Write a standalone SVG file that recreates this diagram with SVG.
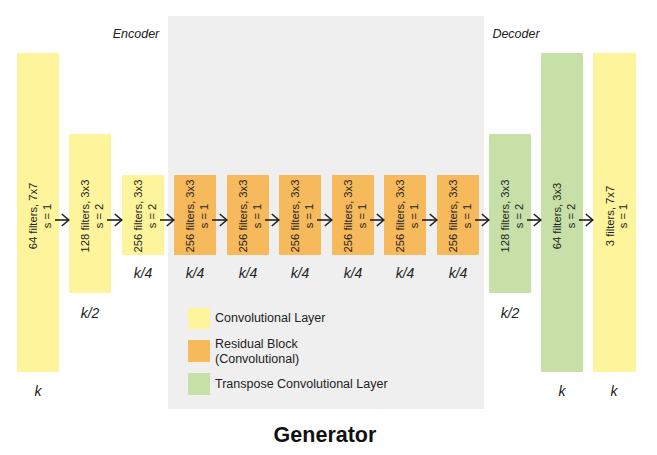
<svg xmlns="http://www.w3.org/2000/svg" width="657" height="455" viewBox="0 0 657 455">
<style>
.bg{fill:#efefef}
.conv{fill:#fef49c}
.res{fill:#f6b95b}
.tconv{fill:#c6e0a7}
.lbl{font-family:"Liberation Sans",Arial,sans-serif;font-size:11.2px;fill:#222;text-anchor:middle}
.dim{font-family:"Liberation Sans",Arial,sans-serif;font-size:14px;font-style:italic;fill:#222;text-anchor:middle}
.sec{font-family:"Liberation Sans",Arial,sans-serif;font-size:12.5px;font-style:italic;fill:#222;text-anchor:middle}
.leg{font-family:"Liberation Sans",Arial,sans-serif;font-size:12.5px;fill:#222}
.title{font-family:"Liberation Sans",Arial,sans-serif;font-size:21.5px;font-weight:bold;fill:#111;text-anchor:middle}
.arr{stroke:#222;stroke-width:1.6;fill:none;marker-end:url(#ah)}
</style>
<defs>
<marker id="ah" markerUnits="userSpaceOnUse" viewBox="0 0 9 14" refX="8.2" refY="7" markerWidth="9" markerHeight="14" orient="auto">
<path d="M1,1 L8,7 L1,13" fill="none" stroke="#222" stroke-width="1.6"/>
</marker>
</defs>
<rect class="bg" x="168" y="16" width="316" height="393"/>
<text class="sec" x="136" y="38">Encoder</text>
<text class="sec" x="516" y="38">Decoder</text>

<g id="conv1">
<rect class="conv" x="17" y="53" width="42" height="319" rx="1"/>
<text class="lbl" transform="translate(38,216) rotate(-90)"><tspan x="0" y="-1">64 filters, 7x7</tspan><tspan x="0" y="12.5">s = 1</tspan></text>
<text class="dim" x="38" y="396">k</text>
</g>
<g id="conv2">
<rect class="conv" x="69" y="134" width="42" height="159" rx="1"/>
<text class="lbl" transform="translate(90,216) rotate(-90)"><tspan x="0" y="-1">128 filters, 3x3</tspan><tspan x="0" y="12.5">s = 2</tspan></text>
<text class="dim" x="90" y="318">k/2</text>
</g>
<g id="conv3">
<rect class="conv" x="122" y="175" width="42" height="80" rx="1"/>
<text class="lbl" transform="translate(143,216) rotate(-90)"><tspan x="0" y="-1">256 filters, 3x3</tspan><tspan x="0" y="12.5">s = 2</tspan></text>
<text class="dim" x="143" y="278">k/4</text>
</g>
<g id="res1">
<rect class="res" x="174" y="175" width="42" height="80" rx="1"/>
<text class="lbl" transform="translate(195,216) rotate(-90)"><tspan x="0" y="-1">256 filters, 3x3</tspan><tspan x="0" y="12.5">s = 1</tspan></text>
<text class="dim" x="195" y="278">k/4</text>
</g>
<g id="res2">
<rect class="res" x="227" y="175" width="42" height="80" rx="1"/>
<text class="lbl" transform="translate(248,216) rotate(-90)"><tspan x="0" y="-1">256 filters, 3x3</tspan><tspan x="0" y="12.5">s = 1</tspan></text>
<text class="dim" x="248" y="278">k/4</text>
</g>
<g id="res3">
<rect class="res" x="279" y="175" width="42" height="80" rx="1"/>
<text class="lbl" transform="translate(300,216) rotate(-90)"><tspan x="0" y="-1">256 filters, 3x3</tspan><tspan x="0" y="12.5">s = 1</tspan></text>
<text class="dim" x="300" y="278">k/4</text>
</g>
<g id="res4">
<rect class="res" x="332" y="175" width="42" height="80" rx="1"/>
<text class="lbl" transform="translate(353,216) rotate(-90)"><tspan x="0" y="-1">256 filters, 3x3</tspan><tspan x="0" y="12.5">s = 1</tspan></text>
<text class="dim" x="353" y="278">k/4</text>
</g>
<g id="res5">
<rect class="res" x="384" y="175" width="42" height="80" rx="1"/>
<text class="lbl" transform="translate(405,216) rotate(-90)"><tspan x="0" y="-1">256 filters, 3x3</tspan><tspan x="0" y="12.5">s = 1</tspan></text>
<text class="dim" x="405" y="278">k/4</text>
</g>
<g id="res6">
<rect class="res" x="437" y="175" width="42" height="80" rx="1"/>
<text class="lbl" transform="translate(458,216) rotate(-90)"><tspan x="0" y="-1">256 filters, 3x3</tspan><tspan x="0" y="12.5">s = 1</tspan></text>
<text class="dim" x="458" y="278">k/4</text>
</g>
<g id="tconv1">
<rect class="tconv" x="489" y="134" width="42" height="159" rx="1"/>
<text class="lbl" transform="translate(510,216) rotate(-90)"><tspan x="0" y="-1">128 filters, 3x3</tspan><tspan x="0" y="12.5">s = 2</tspan></text>
<text class="dim" x="510" y="318">k/2</text>
</g>
<g id="tconv2">
<rect class="tconv" x="541" y="53" width="42" height="319" rx="1"/>
<text class="lbl" transform="translate(562,216) rotate(-90)"><tspan x="0" y="-1">64 filters, 3x3</tspan><tspan x="0" y="12.5">s = 2</tspan></text>
<text class="dim" x="562" y="396">k</text>
</g>
<g id="conv4">
<rect class="conv" x="593" y="53" width="43" height="319" rx="1"/>
<text class="lbl" transform="translate(614.5,216) rotate(-90)"><tspan x="0" y="-1">3 filters, 7x7</tspan><tspan x="0" y="12.5">s = 1</tspan></text>
<text class="dim" x="614" y="396">k</text>
</g>

<g id="connectors">
<line class="arr" x1="55" y1="220" x2="69" y2="220"/>
<line class="arr" x1="107" y1="220" x2="122" y2="220"/>
<line class="arr" x1="160" y1="220" x2="174" y2="220"/>
<line class="arr" x1="212" y1="220" x2="227" y2="220"/>
<line class="arr" x1="265" y1="220" x2="279" y2="220"/>
<line class="arr" x1="317" y1="220" x2="332" y2="220"/>
<line class="arr" x1="370" y1="220" x2="384" y2="220"/>
<line class="arr" x1="422" y1="220" x2="437" y2="220"/>
<line class="arr" x1="475" y1="220" x2="489" y2="220"/>
<line class="arr" x1="527" y1="220" x2="541" y2="220"/>
<line class="arr" x1="579" y1="220" x2="593" y2="220"/>
</g>

<g id="legend">
<rect class="conv" x="188" y="308" width="22" height="21"/>
<text class="leg" x="215" y="322">Convolutional Layer</text>
<rect class="res" x="188" y="340" width="22" height="22"/>
<text class="leg" x="215" y="348">Residual Block</text>
<text class="leg" x="215" y="363">(Convolutional)</text>
<rect class="tconv" x="188" y="373" width="22" height="22"/>
<text class="leg" x="215" y="388">Transpose Convolutional Layer</text>
</g>

<text class="title" x="325" y="442">Generator</text>
</svg>
